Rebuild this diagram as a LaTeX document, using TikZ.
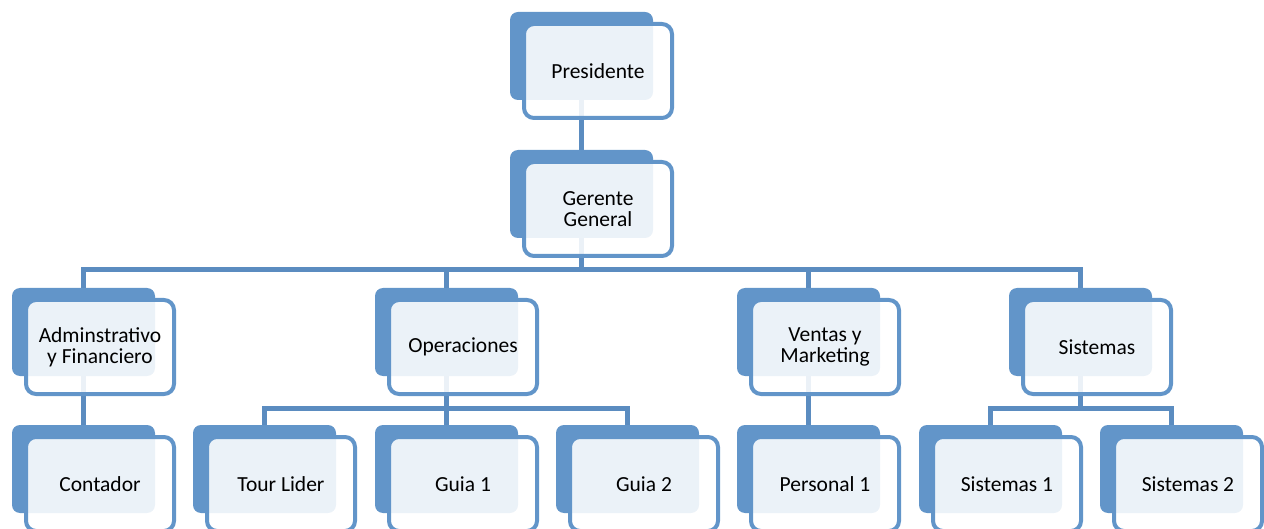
\documentclass[tikz,border=0pt]{standalone}
\usepackage{fontspec}
\setmainfont{Carlito}
\usetikzlibrary{backgrounds}
\definecolor{backblue}{RGB}{98,149,201}
\definecolor{lineblue}{RGB}{91,140,192}
\tikzset{
  backbox/.style={fill=backblue, rounded corners=8pt, minimum width=143pt, minimum height=88pt, anchor=north west, inner sep=0pt, outer sep=0pt},
  frontbox/.style={draw=backblue, line width=4pt, fill=white, fill opacity=0.88, text opacity=1, rounded corners=10pt, minimum width=148pt, minimum height=94pt, anchor=north west, inner sep=0pt, outer sep=0pt, align=center, font=\fontsize{21.5}{21}\selectfont, text=black},
  conn/.style={draw=lineblue, line width=5pt}
}
\newcommand\orgunit[4]{%
  \node[backbox] (#1B) at (#2,#3) {};
  \node[frontbox] (#1) at (#2+14,#3+12) {#4};
}
\begin{document}
\begin{tikzpicture}[x=1pt,y=-1pt]
\useasboundingbox (0,0) rectangle (1264,529);
\orgunit{pres}{510}{12}{Presidente}
\orgunit{ger}{510}{150}{Gerente\\General}
\orgunit{adm}{12}{288}{Adminstrativo\\y Financiero}
\orgunit{ope}{375}{288}{Operaciones}
\orgunit{ven}{737}{288}{Ventas y\\Marketing}
\orgunit{sis}{1009}{288}{Sistemas}
\orgunit{con}{12}{425}{Contador}
\orgunit{tou}{193}{425}{Tour Lider}
\orgunit{gua}{375}{425}{Guia 1}
\orgunit{gub}{556}{425}{Guia 2}
\orgunit{per}{737}{425}{Personal 1}
\orgunit{sia}{919}{425}{Sistemas 1}
\orgunit{sib}{1100}{425}{Sistemas 2}
\coordinate (bus) at (0,270);
\coordinate (opebus) at (0,408);
\begin{scope}[on background layer]
\draw[conn] (presB.south) -- (gerB.north);
\draw[conn] (gerB.south) -- (gerB.south |- bus);
\draw[conn] (admB.north) -- (admB.north |- bus) -- (sisB.north |- bus) -- (sisB.north);
\draw[conn] (opeB.north) -- (opeB.north |- bus);
\draw[conn] (venB.north) -- (venB.north |- bus);
\draw[conn] (admB.south) -- (conB.north);
\draw[conn] (opeB.south) -- (guaB.north);
\draw[conn] (touB.north) -- (touB.north |- opebus) -- (gubB.north |- opebus) -- (gubB.north);
\draw[conn] (venB.south) -- (perB.north);
\draw[conn] (sisB.south) -- (sisB.south |- opebus);
\draw[conn] (siaB.north) -- (siaB.north |- opebus) -- (sibB.north |- opebus) -- (sibB.north);
\end{scope}
\end{tikzpicture}
\end{document}
